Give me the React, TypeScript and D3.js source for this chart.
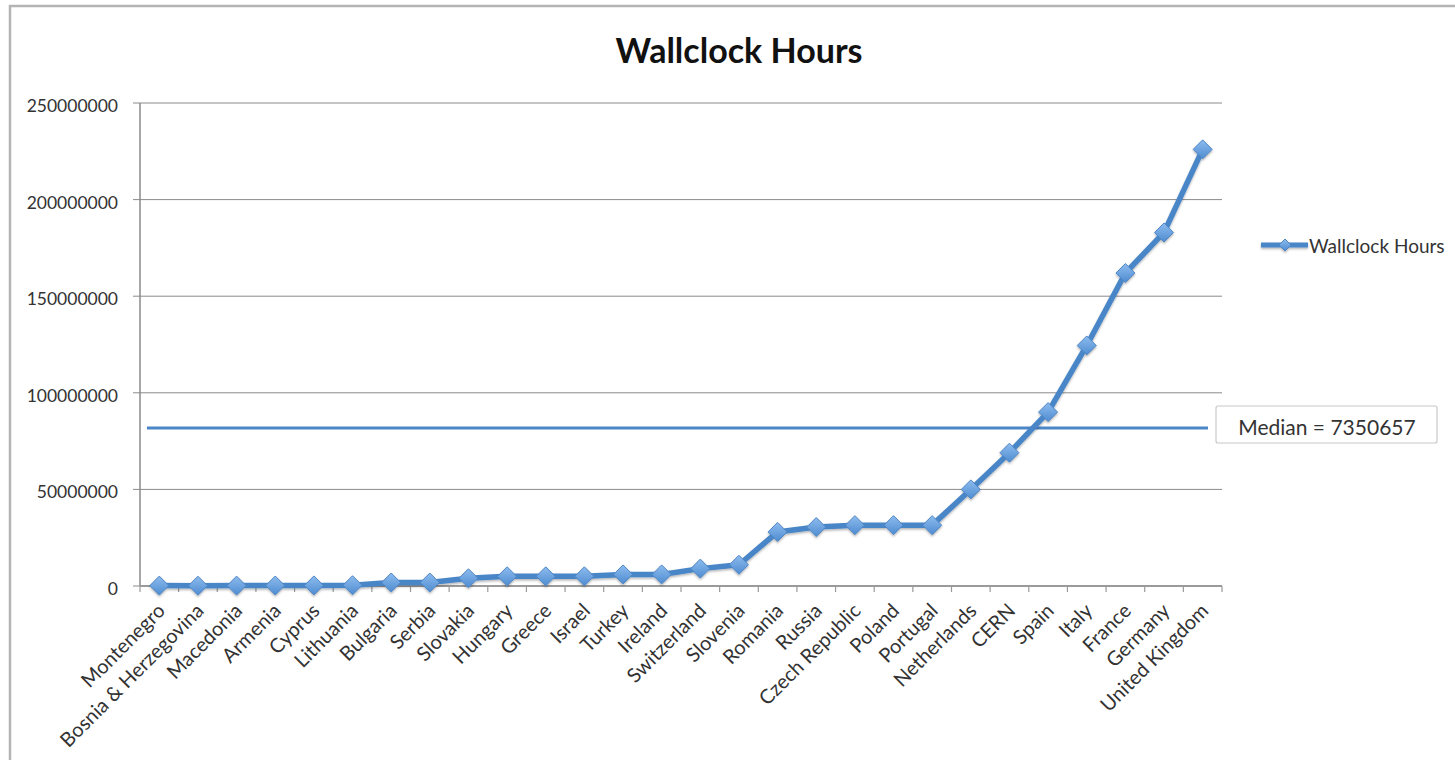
import React from "react";
import * as d3 from "d3";

const categories = [
  "Montenegro", "Bosnia & Herzegovina", "Macedonia", "Armenia", "Cyprus", "Lithuania",
  "Bulgaria", "Serbia", "Slovakia", "Hungary", "Greece", "Israel", "Turkey", "Ireland",
  "Switzerland", "Slovenia", "Romania", "Russia", "Czech Republic", "Poland", "Portugal",
  "Netherlands", "CERN", "Spain", "Italy", "France", "Germany", "United Kingdom",
];
const wallclockHours = [
  200000, 150000, 200000, 250000, 300000, 400000,
  1800000, 1800000, 4000000, 5000000, 5000000, 5000000, 6000000, 6000000,
  9000000, 11000000, 28000000, 30500000, 31500000, 31500000, 31500000,
  50000000, 69000000, 90000000, 124500000, 162000000, 183000000, 226000000,
];
const yTicks = [0, 50000000, 100000000, 150000000, 200000000, 250000000];
const medianLineValue = 81800000;
const medianLabel = "Median = 7350657";
const title = "Wallclock Hours";
const seriesName = "Wallclock Hours";

const W = 1455, H = 760;
const left = 140, right = 1222, top = 103, bottom = 586;
const FONT = "Lato, 'Open Sans', sans-serif";
const BLUE = "#4a86c8";

export default function App() {
  const x = d3.scaleBand<string>().domain(categories).range([left, right]).padding(0);
  const y = d3.scaleLinear().domain([0, 250000000]).range([bottom, top]);
  const cx = (c: string) => (x(c) as number) + x.bandwidth() / 2;
  const line = d3.line<number>().x((_, i) => cx(categories[i])).y((d) => y(d));
  const diamond = (px: number, py: number, r: number) =>
    `M${px},${py - r}L${px + r},${py}L${px},${py + r}L${px - r},${py}Z`;
  const tickXs = d3.range(categories.length + 1).map((i) => left + i * x.bandwidth());

  return (
    <svg width={W} height={H} style={{ position: "absolute", left: 0, top: 0, background: "#fff" }}>
      <defs>
        <linearGradient id="mk" x1="0" y1="0" x2="0" y2="1">
          <stop offset="0" stopColor="#8dbcef" />
          <stop offset="1" stopColor="#4f8cd0" />
        </linearGradient>
        <filter id="sh" x="-20%" y="-20%" width="140%" height="160%">
          <feDropShadow dx="0" dy="1.5" stdDeviation="1.2" floodColor="#000" floodOpacity="0.3" />
        </filter>
      </defs>
      <rect x={10} y={6} width={W + 20} height={H + 20} fill="#fff" stroke="#b4b4b4" strokeWidth={2.5} />
      <text x={739} y={63} textAnchor="middle" fontFamily={FONT} fontWeight="bold" fontSize={34} fill="#111">
        {title}
      </text>
      {yTicks.map((t) => (
        <g key={t}>
          {t > 0 && <line x1={left} x2={right} y1={y(t)} y2={y(t)} stroke="#8a8a8a" strokeWidth={1} />}
          <line x1={left - 7} x2={left} y1={y(t)} y2={y(t)} stroke="#8a8a8a" strokeWidth={1} />
          <text x={118} y={y(t) + 9} textAnchor="end" fontFamily={FONT} fontSize={17.5} fill="#333">
            {t}
          </text>
        </g>
      ))}
      <line x1={left} x2={left} y1={top} y2={bottom} stroke="#8a8a8a" strokeWidth={1.5} />
      <line x1={left} x2={right} y1={bottom} y2={bottom} stroke="#9a9a9a" strokeWidth={2} />
      {tickXs.map((tx, i) => (
        <line key={i} x1={tx} x2={tx} y1={bottom} y2={bottom + 6} stroke="#9a9a9a" strokeWidth={1.2} />
      ))}
      {categories.map((c) => (
        <text
          key={c}
          transform={`translate(${cx(c) + 7},${bottom + 26}) rotate(-45)`}
          textAnchor="end"
          fontFamily={FONT}
          fontSize={20}
          fill="#333"
        >
          {c}
        </text>
      ))}
      <line x1={147} x2={1208} y1={y(medianLineValue)} y2={y(medianLineValue)} stroke={BLUE} strokeWidth={3} />
      <rect x={1216} y={406} width={221} height={37} rx={2} fill="#fff" stroke="#c8c8c8" strokeWidth={1.2} />
      <text x={1327} y={435} textAnchor="middle" fontFamily={FONT} fontSize={21} fill="#333">
        {medianLabel}
      </text>
      <g filter="url(#sh)">
        <path d={line(wallclockHours) || ""} fill="none" stroke={BLUE} strokeWidth={5.5} strokeLinejoin="round" />
        {wallclockHours.map((v, i) => (
          <path key={i} d={diamond(cx(categories[i]), y(v), 9.5)} fill="url(#mk)" stroke="#4f86c5" strokeWidth={1} />
        ))}
      </g>
      <g filter="url(#sh)">
        <line x1={1261} x2={1308} y1={245} y2={245} stroke={BLUE} strokeWidth={5} />
        <path d={diamond(1285, 245, 6)} fill="url(#mk)" stroke="#4f86c5" strokeWidth={1} />
      </g>
      <text x={1309} y={253} fontFamily={FONT} fontSize={19} fill="#333">
        {seriesName}
      </text>
    </svg>
  );
}
